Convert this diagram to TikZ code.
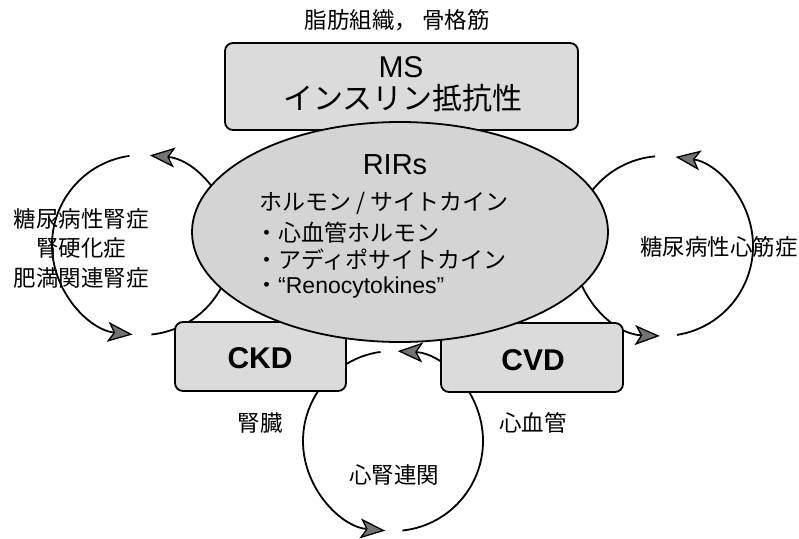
\documentclass[tikz,border=0pt]{standalone}
\usepackage{fontspec}
\setmainfont{Noto Sans CJK JP}
\newfontfamily\latinf{Liberation Sans}
\usetikzlibrary{arrows.meta,shapes.geometric}
\begin{document}
\begin{tikzpicture}[x=1pt,y=1pt,
  boxstyle/.style={draw, rounded corners=8pt, fill=black!14, line width=1.8pt, inner sep=0pt},
  ellstyle/.style={draw, ellipse, fill=black!17, line width=1.8pt, inner sep=0pt},
  cyc/.style={line width=1.8pt, -{Stealth[length=25pt,width=20pt,inset=6pt,fill=black!55,line width=1.3pt]}},
  lab/.style={font=\fontsize{22.5}{29.5}\selectfont, align=center, inner sep=0pt},
  inl/.style={font=\fontsize{23}{28}\selectfont, anchor=west, inner sep=0pt},
  big/.style={inner sep=0pt},
]
\useasboundingbox (0,0) rectangle (799,-538);

% circle centres of the three cycles
\coordinate (cl) at (142,-245);
\coordinate (cr) at (663,-246);
\coordinate (cb) at (393,-441);

% left cycle
\draw[cyc] ([shift={(98:90)}]cl) arc[start angle=98,end angle=264,radius=90];
\draw[cyc] ([shift={(276:90)}]cl) arc[start angle=276,end angle=445,radius=90];
% right cycle
\draw[cyc] ([shift={(279:90)}]cr) arc[start angle=279,end angle=442,radius=90];
\draw[cyc] ([shift={(95:90)}]cr) arc[start angle=95,end angle=268,radius=90];
% bottom cycle
\draw[cyc] ([shift={(98:90)}]cb) arc[start angle=98,end angle=265,radius=90];
\draw[cyc] ([shift={(276:90)}]cb) arc[start angle=276,end angle=447,radius=90];

% boxes
\node[boxstyle, minimum width=353pt, minimum height=87pt] (ms) at (401.5,-86.5) {};
\node[boxstyle, minimum width=171pt, minimum height=69pt] (ckd) at (260.5,-356.5) {};
\node[boxstyle, minimum width=182pt, minimum height=69pt] (cvd) at (532,-357.5) {};
\node[ellstyle, minimum width=416pt, minimum height=220pt] (rirs) at (400,-232) {};

% texts
\node[lab] (title) at (397,-20) {脂肪組織，\hspace{5pt}骨格筋};
\node[big, font=\fontsize{30}{32}\selectfont\latinf] (mst) at (401,-67) {MS};
\node[big, font=\fontsize{30}{32}\selectfont] (irt) at (403,-98) {インスリン抵抗性};
\node[big, font=\fontsize{29}{30}\selectfont\latinf] (rt) at (395,-165) {RIRs};
\node[inl] (l1) at (259,-203) {ホルモン / サイトカイン};
\node[inl] (l2) at (255,-233) {・心血管ホルモン};
\node[inl] (l3) at (255,-260) {・アディポサイトカイン};
\node[inl] (l4) at (255,-288) {・{\latinf “Renocytokines”}};
\node[big, font=\fontsize{30}{32}\selectfont\latinf\bfseries] (ckdt) at (260,-358) {CKD};
\node[big, font=\fontsize{30}{32}\selectfont\latinf\bfseries] (cvdt) at (533,-360) {CVD};
\node[lab] (lt) at (81,-248) {糖尿病性腎症\\腎硬化症\\肥満関連腎症};
\node[lab] (rt2) at (719,-247) {糖尿病性心筋症};
\node[lab] (kid) at (260,-423) {腎臓};
\node[lab] (hrt) at (533,-423) {心血管};
\node[lab] (crs) at (394,-475) {心腎連関};
\end{tikzpicture}
\end{document}
